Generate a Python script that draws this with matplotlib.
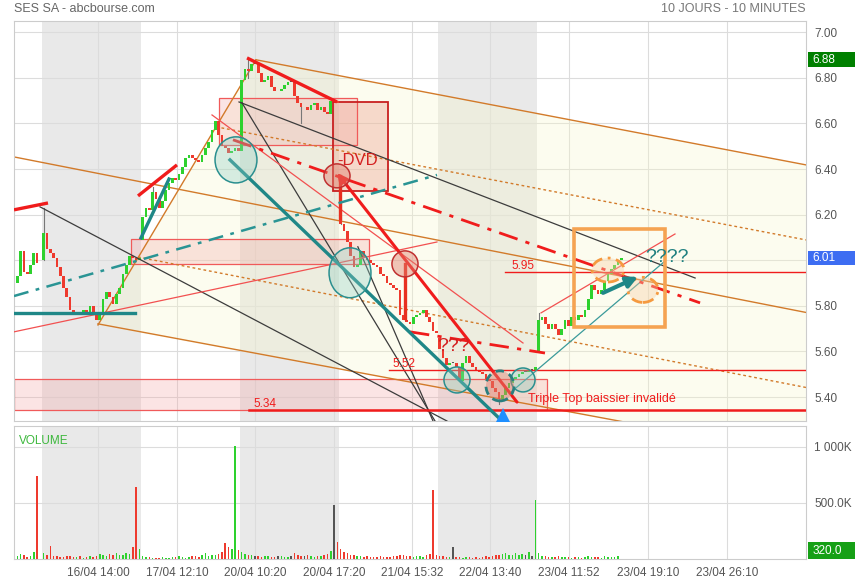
import matplotlib
matplotlib.use('Agg')
import matplotlib.pyplot as plt
from matplotlib.patches import Rectangle, Ellipse, Polygon
from matplotlib.transforms import blended_transform_factory
import numpy as np

plt.rcParams['font.family'] = ['Liberation Sans', 'DejaVu Sans']

# ------------------------------------------------------------------ data
# x unit = one candle slot (~20 min); a trading day = 30 slots
day_starts = [0.5, 8.5, 38.5, 68.5, 98.5, 128.5, 158.5]
day_opens = [5.90, 6.00, 6.09, 6.48, 6.20, 5.66, 5.60]
d0 = [5.93, 6.04, 5.95, 5.94, 5.98, 6.03, 5.99]
d1 = [6.12, 6.05, 6.03, 6.01, 5.97, 5.93, 5.88, 5.84, 5.78, 5.76,
      5.77, 5.76, 5.78, 5.77, 5.80, 5.76, 5.74, 5.76, 5.83, 5.86,
      5.84, 5.81, 5.85, 5.88, 5.94, 5.98, 6.02, 6.01, 6.00, 6.01]
d2 = [6.19, 6.23, 6.22, 6.30, 6.27, 6.23, 6.26, 6.31, 6.34, 6.36,
      6.35, 6.38, 6.41, 6.45, 6.46, 6.45, 6.44, 6.43, 6.46, 6.49,
      6.52, 6.57, 6.61, 6.55, 6.50, 6.49, 6.47, 6.48, 6.49, 6.48]
d3 = [6.79, 6.84, 6.83, 6.86, 6.86, 6.82, 6.78, 6.79, 6.81, 6.76,
      6.74, 6.74, 6.75, 6.77, 6.78, 6.78, 6.72, 6.69, 6.67, 6.67,
      6.66, 6.68, 6.69, 6.66, 6.67, 6.65, 6.64, 6.70, 6.70, 6.69]
d4 = [6.16, 6.13, 6.08, 6.02, 5.97, 5.98, 6.04, 6.01, 6.00, 5.99,
      5.98, 5.97, 5.94, 5.93, 5.90, 5.89, 5.88, 5.87, 5.76, 5.74,
      5.73, 5.72, 5.75, 5.76, 5.77, 5.78, 5.75, 5.73, 5.69, 5.68]
d5 = [5.61, 5.57, 5.54, 5.55, 5.55, 5.53, 5.47, 5.55, 5.58, 5.55,
      5.53, 5.52, 5.51, 5.50, 5.48, 5.47, 5.44, 5.42, 5.39, 5.41,
      5.44, 5.46, 5.48, 5.49, 5.50, 5.51, 5.51, 5.52, 5.52, 5.53]
d6 = [5.74, 5.75, 5.72, 5.70, 5.72, 5.70, 5.67, 5.70, 5.74, 5.71,
      5.75, 5.74, 5.76, 5.75, 5.78, 5.83, 5.89, 5.87, 5.85, 5.87,
      5.91, 5.94, 5.96, 5.98, 6.00, 6.01]
closes_by_day = [d0, d1, d2, d3, d4, d5, d6]

# volumes in thousands
v0 = [30, 45, 35, 20, 25, 60, 743]
v1 = [55, 40, 115, 30, 25, 20, 15, 25, 30, 20, 15, 25, 10, 20, 30,
      15, 25, 45, 35, 30, 45, 40, 50, 35, 40, 55, 45, 110, 646, 88]
v2 = [30, 20, 15, 10, 12, 10, 15, 8, 12, 20, 15, 25, 18, 12, 20,
      30, 25, 22, 35, 50, 30, 40, 35, 45, 60, 140, 110, 90, 1009, 80]
v3 = [60, 45, 40, 35, 30, 25, 20, 30, 25, 20, 15, 25, 30, 20, 18,
      25, 50, 40, 30, 25, 35, 30, 20, 25, 30, 35, 45, 70, 478, 150]
v4 = [90, 60, 50, 40, 35, 25, 30, 20, 25, 15, 20, 15, 25, 20, 15,
      20, 25, 30, 40, 35, 30, 25, 20, 30, 25, 20, 35, 45, 620, 40]
v5 = [30, 25, 20, 15, 106, 20, 15, 10, 15, 20, 12, 15, 10, 18, 25,
      20, 30, 35, 40, 45, 50, 40, 35, 50, 40, 45, 35, 60, 25, 531]
v6 = [50, 30, 25, 20, 15, 20, 25, 15, 20, 15, 10, 15, 20, 12, 18,
      25, 20, 15, 20, 12, 25, 18, 15, 20, 25, 0.32]
vols_by_day = [v0, v1, v2, v3, v4, v5, v6]

# a few visible wicks (day, slot, top, bottom)
wick_day = [1, 2, 3, 3, 4, 5, 6]
wick_j = [0, 3, 2, 18, 0, 18, 0]
wick_top = [6.23, 6.32, 6.89, 6.67, 6.26, 5.41, 5.77]
wick_bot = [6.00, 6.27, 6.80, 6.60, 6.16, 5.37, 5.60]

tick_pos = [25.45, 49.39, 73.03, 96.97, 120.6, 144.2, 168.2, 192.1, 216.1]
tick_labels = ['16/04 14:00', '17/04 12:10', '20/04 10:20', '20/04 17:20',
               '21/04 15:32', '22/04 13:40', '23/04 11:52', '23/04 19:10',
               '23/04 26:10']
price_ticks = [5.40, 5.60, 5.80, 6.00, 6.20, 6.40, 6.60, 6.80, 7.00]
day_high = 6.88

# ---- drawing annotations (time slot, price)
orange_solid = [(25.45, 5.716, 73.33, 6.879), (73.33, 6.879, 240, 6.418),
                (0, 6.453, 240, 5.771), (25.45, 5.721, 240, 5.142)]
orange_dotted = [(61.21, 6.585, 240, 6.089), (37.58, 6.014, 240, 5.442)]
channel_fill = [(25.45, 5.716), (73.33, 6.879), (240, 6.418), (240, 5.142)]
black_lines = [(7.88, 6.234, 131.2, 5.295), (68.18, 6.694, 206.4, 5.922),
               (69.09, 6.690, 127.58, 5.295), (104.2, 6.059, 126.97, 5.295)]
red_thick = [(0, 6.221, 10.3, 6.251), (37.58, 6.282, 49.39, 6.418),
             (70.61, 6.887, 97.88, 6.694)]
red_vertical = [(98.79, 6.37, 6.186), (118.48, 5.984, 5.747)]
red_thin = [(0, 5.686, 128.18, 6.080), (60.0, 6.637, 154.24, 5.637),
            (159.7, 5.769, 200.3, 6.115)]
red_dashdot = [(66.36, 6.528, 207.9, 5.813), (120.0, 5.686, 160.9, 5.593)]
levels = [(5.95, 148.8, '5.95', 150.9), (5.52, 113.6, '5.52', 114.8),
          (5.345, 71.2, '5.34', 72.7)]
teal_thick = [(38.48, 6.098, 46.97, 6.356), (65.45, 6.44, 147.9, 5.295),
              (0, 5.769, 36.7, 5.769)]
teal_dashdot = [(0, 5.843, 128.18, 6.374)]
teal_thin = [(150.3, 5.418, 197.0, 5.993)]
pink_rects = [(62.12, 6.506, 103.94, 6.712), (35.45, 5.984, 107.58, 6.093),
              (0, 5.344, 161.5, 5.479)]
dvd_rect = (96.67, 6.304, 113.33, 6.694)
orange_box = (169.7, 5.707, 197.3, 6.137)
teal_circles = [(67.27, 6.44, 12.7, 0.202), (101.82, 5.945, 12.7, 0.219),
                (134.24, 5.475, 7.9, 0.114), (154.24, 5.475, 7.3, 0.105)]
red_circles = [(97.88, 6.37, 7.9, 0.105), (118.48, 5.984, 7.9, 0.114)]
dashed_red_circle = (147.27, 5.449, 8.5, 0.132)
orange_circles = [(180.0, 5.957, 9.7, 0.105), (190.6, 5.87, 9.1, 0.11)]

# ------------------------------------------------------------------ build
xs, opens, closes, vols = [], [], [], []
for start, o0, cl, vl in zip(day_starts, day_opens, closes_by_day, vols_by_day):
    prev = o0
    for j, c in enumerate(cl):
        xs.append(start + 0.5 + j)
        opens.append(prev)
        closes.append(c)
        vols.append(vl[j] * 1000)
        prev = c
xs = np.array(xs); opens = np.array(opens); closes = np.array(closes)
vols = np.array(vols)

GREEN = '#2ed12e'
RED = '#ee3a2e'
GRAY = '#555555'
ORANGE = '#d27a2a'
TEAL = '#1f8787'
LRED = '#f01c1c'
BLACK = '#3c3c3c'

fig = plt.figure(figsize=(8.55, 5.80), dpi=100)
ax = fig.add_axes([14 / 855, 1 - 421 / 580, 792 / 855, 400 / 580])
ax2 = fig.add_axes([14 / 855, 1 - 559 / 580, 792 / 855, 133 / 580])

for a in (ax, ax2):
    a.set_xlim(0, 240)
    for s in a.spines.values():
        s.set_color('#cccccc')
        s.set_linewidth(0.8)
    for k in (1, 3, 5):
        a.axvspan(day_starts[k], day_starts[k] + 30, color='#e9e9e9', zorder=0, lw=0)
    a.set_xticks(tick_pos)
    a.grid(True, color='#dcdcdc', lw=0.8, zorder=0.5)
    a.set_axisbelow(True)
    a.yaxis.tick_right()
    a.tick_params(length=0, labelsize=8.5, labelcolor='#555555', pad=6)

last_close = closes[-1]
ax.set_ylim(5.295, 7.049)
ax.set_yticks(price_ticks)
# the label hidden under the last-price badge is left blank
ax.set_yticklabels(['' if abs(v - last_close) < 0.05 else '%.2f' % v for v in price_ticks])
ax.set_xticklabels([])

ax2.set_ylim(0, 1187000)
ax2.set_yticks([500000, 1000000])
ax2.set_yticklabels(['500.0K', '1 000K'])
ax2.set_xticklabels(tick_labels)

# channel fill
ax.add_patch(Polygon(channel_fill, closed=True, facecolor='#f8f8c8', alpha=0.29,
                     edgecolor='none', zorder=0.6))

# pink rectangles
for x0, p0, x1, p1 in pink_rects:
    ax.add_patch(Rectangle((x0, p0), x1 - x0, p1 - p0, facecolor='#f4a0a0', alpha=0.28,
                           edgecolor='none', zorder=0.7))
    ax.add_patch(Rectangle((x0, p0), x1 - x0, p1 - p0, facecolor='none',
                           edgecolor='#f05a5a', lw=0.9, zorder=0.8))
x0, p0, x1, p1 = dvd_rect
ax.add_patch(Rectangle((x0, p0), x1 - x0, p1 - p0, facecolor='#ec9a86', alpha=0.35,
                       edgecolor='none', zorder=0.7))
ax.add_patch(Rectangle((x0, p0), x1 - x0, p1 - p0, facecolor='none',
                       edgecolor='#c82020', lw=1.3, zorder=0.8))

# orange channel
for x0, p0, x1, p1 in orange_solid:
    ax.plot([x0, x1], [p0, p1], color=ORANGE, lw=1.0, zorder=2)
for x0, p0, x1, p1 in orange_dotted:
    ax.plot([x0, x1], [p0, p1], color=ORANGE, lw=1.0, ls=(0, (2, 2)), zorder=2)

# candles
up = closes > opens
dn = closes < opens
ccol = np.where(up, GREEN, np.where(dn, RED, GRAY))
bottoms = np.minimum(opens, closes)
heights = np.maximum(np.abs(closes - opens), 0.004)
for d, j, t, b in zip(wick_day, wick_j, wick_top, wick_bot):
    x = day_starts[d] + 0.5 + j
    ax.plot([x, x], [b, t], color='#777777', lw=0.8, zorder=2.5)
ax.bar(xs, heights, bottom=bottoms, width=0.8, color=ccol, linewidth=0, zorder=3)

# volume
ax2.bar(xs, vols, width=0.45, color=ccol, linewidth=0, zorder=3)

# black lines
for x0, p0, x1, p1 in black_lines:
    ax.plot([x0, x1], [p0, p1], color=BLACK, lw=0.9, zorder=4)

# red lines
for x0, p0, x1, p1 in red_thick:
    ax.plot([x0, x1], [p0, p1], color=LRED, lw=2.4, zorder=5, solid_capstyle='butt')
for x, p0, p1 in red_vertical:
    ax.plot([x, x], [p0, p1], color='#e83020', lw=2.4, zorder=5)
for x0, p0, x1, p1 in red_thin:
    ax.plot([x0, x1], [p0, p1], color='#f25050', lw=0.9, zorder=4)
for x0, p0, x1, p1 in red_dashdot:
    ax.plot([x0, x1], [p0, p1], color=LRED, lw=2.0, ls=(0, (7, 3, 1.5, 3)), zorder=5)
for val, xstart, lab, xlab in levels:
    ax.plot([xstart, 240], [val, val], color=LRED,
            lw=1.8 if val < 5.4 else 1.0, zorder=4)
    ax.text(xlab, val + 0.026, lab, color=LRED, fontsize=8.5, va='center', ha='left', zorder=6)

# red arrow from bottom to DVD circle
ax.annotate('', xy=(97.88, 6.383), xytext=(152.42, 5.378),
            arrowprops=dict(arrowstyle='-|>', color=LRED, lw=2.2, mutation_scale=14,
                            shrinkA=0, shrinkB=0), zorder=6)

# teal lines
for x0, p0, x1, p1 in teal_thick:
    ax.plot([x0, x1], [p0, p1], color=TEAL, lw=2.4, zorder=5)
for x0, p0, x1, p1 in teal_dashdot:
    ax.plot([x0, x1], [p0, p1], color='#2a9494', lw=1.8, ls=(0, (6, 3, 1.5, 3)), zorder=5)
for x0, p0, x1, p1 in teal_thin:
    ax.plot([x0, x1], [p0, p1], color='#3a9a9a', lw=0.9, zorder=4)
ax.annotate('', xy=(189.1, 5.927), xytext=(178.5, 5.857),
            arrowprops=dict(arrowstyle='-|>', color=TEAL, lw=3.0, mutation_scale=16,
                            shrinkA=0, shrinkB=0), zorder=7)

# circles
for cx, cp, w, h in teal_circles:
    ax.add_patch(Ellipse((cx, cp), w, h, facecolor='#8fcfc4', alpha=0.35, edgecolor='none', zorder=6))
    ax.add_patch(Ellipse((cx, cp), w, h, facecolor='none', edgecolor='#2a8f8f', lw=1.1, zorder=6))
for cx, cp, w, h in red_circles:
    ax.add_patch(Ellipse((cx, cp), w, h, facecolor='#e08070', alpha=0.45, edgecolor='none', zorder=6))
    ax.add_patch(Ellipse((cx, cp), w, h, facecolor='none', edgecolor='#c03030', lw=1.1, zorder=6))
cx, cp, w, h = dashed_red_circle
ax.add_patch(Ellipse((cx, cp), w, h, facecolor='#e08070', alpha=0.45, edgecolor='none', zorder=6))
ax.add_patch(Ellipse((cx, cp), w, h, facecolor='none', edgecolor='#2a7f7f', lw=2.0,
                     ls=(0, (3, 2)), zorder=6))
for cx, cp, w, h in orange_circles:
    ax.add_patch(Ellipse((cx, cp), w, h, facecolor='#f8d0a8', alpha=0.4, edgecolor='none', zorder=6))
    ax.add_patch(Ellipse((cx, cp), w, h, facecolor='none', edgecolor='#f59a40', lw=2.0,
                         ls=(0, (4, 2, 1, 2)), zorder=6))

x0, p0, x1, p1 = orange_box
ax.add_patch(Rectangle((x0, p0), x1 - x0, p1 - p0, facecolor='none', edgecolor='#f5a352',
                       lw=2.6, zorder=6))

# blue marker at the low
ax.plot([148.2], [5.318], marker='^', markersize=12, color='#1e8fff', zorder=7,
        clip_on=True, markeredgewidth=0)

# texts
ax.text(97.9, 6.436, '-DVD', color='#d42020', fontsize=12, va='center', ha='left', zorder=7)
ax.text(128.3, 5.62, '???', color='#d42020', fontsize=14, va='center', ha='left', zorder=7)
ax.text(191.2, 6.014, '????', color='#1f8080', fontsize=14, va='center', ha='left', zorder=7)
ax.text(155.8, 5.392, 'Triple Top baissier invalidé', color=LRED, fontsize=9,
        va='center', ha='left', zorder=7)

# badges on the right
tr = blended_transform_factory(ax.transAxes, ax.transData)
for val, col in ((day_high, '#008000'), (last_close, '#3d6df2')):
    ax.add_patch(Rectangle((1.0025, val - 0.031), 0.06, 0.062, transform=tr,
                           facecolor=col, edgecolor='none', clip_on=False, zorder=8))
    ax.text(1.008, val, '%.2f' % val, transform=tr, color='white', fontsize=8.5,
            va='center', ha='left', zorder=9, clip_on=False)
tr2 = blended_transform_factory(ax2.transAxes, ax2.transData)
ax2.add_patch(Rectangle((1.0025, 0), 0.06, 150000, transform=tr2, facecolor='#16a016',
                        edgecolor='none', clip_on=False, zorder=8))
ax2.text(1.008, 75000, '%.1f' % (vols[-1]), transform=tr2, color='white', fontsize=8.5,
         va='center', ha='left', zorder=9, clip_on=False)

ax2.text(0.006, 0.93, 'VOLUME', transform=ax2.transAxes, color='#3cb83c', fontsize=8.5,
         va='top', ha='left')

fig.text(14 / 855, 1 - 9 / 580, 'SES SA - abcbourse.com', color='#666666', fontsize=9,
         va='center', ha='left')
fig.text(806 / 855, 1 - 9 / 580, '10 JOURS - 10 MINUTES', color='#777777', fontsize=9,
         va='center', ha='right')

fig.savefig('out.png', dpi=100)
